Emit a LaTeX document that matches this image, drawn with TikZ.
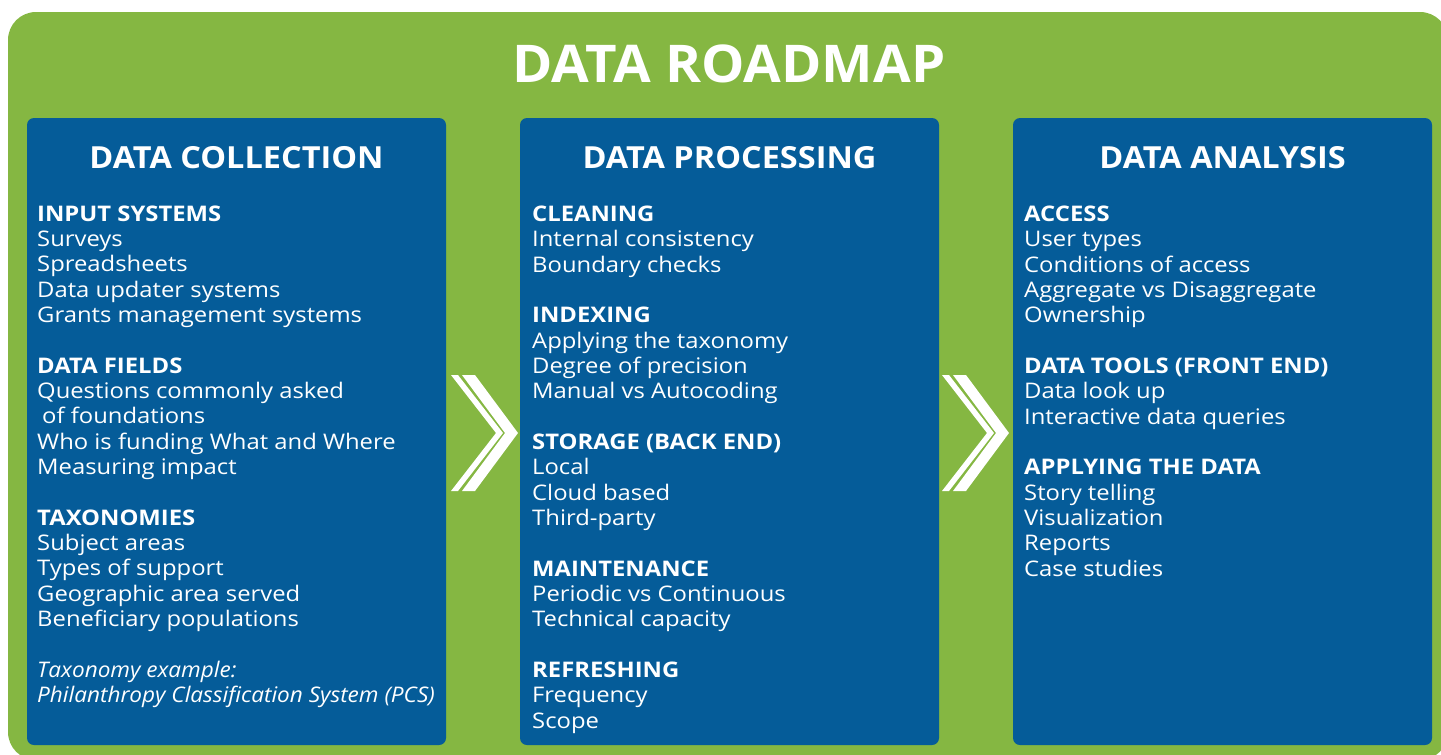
\documentclass[tikz,border=0pt]{standalone}
\usepackage{fontspec}
\setmainfont{Open Sans}[FakeStretch=1.108]
\newfontfamily\titlefont{Open Sans}[FakeStretch=1.05]
\newfontfamily\headfont{Open Sans}[FakeStretch=1.068]
\newfontfamily\notefont{Open Sans}[FakeStretch=1.05]
\definecolor{rmgreen}{RGB}{133,183,66}
\definecolor{rmblue}{RGB}{5,92,153}
\begin{document}
\begin{tikzpicture}[x=1pt,y=-1pt,
  panel/.style={fill=rmblue,draw=none,rounded corners=7pt},
  chev/.style={fill=white,draw=none},
  title/.style={text=white,font=\titlefont\fontsize{52}{52}\selectfont\bfseries,inner sep=0pt,anchor=base},
  heading/.style={text=white,font=\headfont\fontsize{30.4}{30.4}\selectfont\bfseries,inner sep=0pt,anchor=base},
  body/.style={text=white,font=\fontsize{21.5}{25.33}\selectfont,inner sep=0pt,anchor=base west,align=left}]
\useasboundingbox (0,0) rectangle (1441,755);
\fill[rmgreen,rounded corners=28pt] (8,12) rectangle (1448,760);
\node[title] (t) at (729,82) {DATA ROADMAP};
% panels
\fill[panel] (27,118) rectangle (446,745);
\fill[panel] (520,118) rectangle (939,745);
\fill[panel] (1013,118) rectangle (1432,745);
% chevrons
\foreach \dx in {0,491}{
  \begin{scope}[xshift=\dx]
  \fill[chev] (451,375) -- (458,375) -- (503,433) -- (458,491) -- (451,491) -- (496,433) -- cycle;
  \fill[chev] (462,375) -- (475,375) -- (518,433) -- (475,491) -- (462,491) -- (505,433) -- cycle;
  \end{scope}
}
\node[heading] (h1) at (236.5,168.5) {DATA COLLECTION};
\node[heading] (h2) at (729.5,168.5) {DATA PROCESSING};
\node[heading] (h3) at (1222.5,168.5) {DATA ANALYSIS};
\node[body] (b1) at (37,702.5) {\textbf{INPUT SYSTEMS}\\Surveys\\Spreadsheets\\Data updater systems\\Grants management systems\\[25.33pt]
\textbf{DATA FIELDS}\\Questions commonly asked\\\hspace*{5pt}of foundations\\Who is funding What and Where\\Measuring impact\\[25.33pt]
\textbf{TAXONOMIES}\\Subject areas\\Types of support\\Geographic area served\\Beneficiary populations\\[25.33pt]
{\notefont\itshape Taxonomy example:}\\{\notefont\itshape Philanthropy Classification System (PCS)}};
\node[body] (b2) at (532,728.1) {\textbf{CLEANING}\\Internal consistency\\Boundary checks\\[25.33pt]
\textbf{INDEXING}\\Applying the taxonomy\\Degree of precision\\Manual vs Autocoding\\[25.33pt]
\textbf{STORAGE (BACK END)}\\Local\\Cloud based\\Third-party\\[25.33pt]
\textbf{MAINTENANCE}\\Periodic vs Continuous\\Technical capacity\\[25.33pt]
\textbf{REFRESHING}\\Frequency\\Scope};
\node[body] (b3) at (1024,576.1) {\textbf{ACCESS}\\User types\\Conditions of access\\Aggregate vs Disaggregate\\Ownership\\[25.33pt]
\textbf{DATA TOOLS (FRONT END)}\\Data look up\\Interactive data queries\\[25.33pt]
\textbf{APPLYING THE DATA}\\Story telling\\Visualization\\Reports\\Case studies};
\end{tikzpicture}
\end{document}
